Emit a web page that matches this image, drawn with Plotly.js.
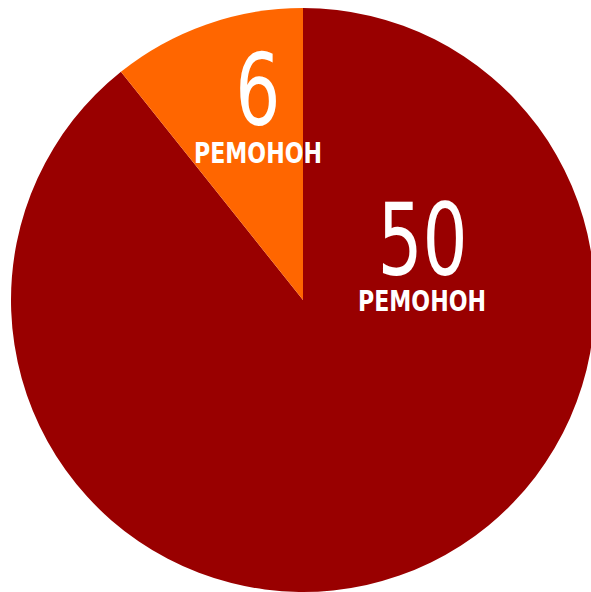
<!DOCTYPE html>
<html>
<head>
<meta charset="utf-8">
<script src="https://cdn.plot.ly/plotly-3.0.1.min.js"></script>
<style>
html, body { margin:0; padding:0; overflow:hidden; background:#fff; width:591px; height:592px; }
#chart { position:absolute; left:0; top:0; }
</style>
</head>
<body>
<div id="chart"></div>
<script>
// Data
const categories = ["Big", "Small"];
const values = [50, 6];
const unitLabel = "РЕМОНОН";
const sliceColors = ["#990000", "#FF6600"];

const W = 600, H = 600;
const cx = 303, cy = 300, R = 292;

const trace = {
  type: "pie",
  labels: categories,
  values: values,
  sort: false,
  direction: "clockwise",
  rotation: 0,
  textinfo: "none",
  hoverinfo: "none",
  marker: { colors: sliceColors, line: { width: 0 } },
  domain: { x: [(cx - R) / W, (cx + R) / W], y: [(H - cy - R) / H, (H - cy + R) / H] },
  showlegend: false
};

const numFont = { family: "DejaVu Sans", size: 100, color: "#ffffff" };
const unitFont = { family: "DejaVu Sans", size: 28, color: "#ffffff", weight: "bold" };

// label anchor points (pixels from top-left)
const labelPos = [ { x: 422, yNum: 240, yUnit: 301 }, { x: 258, yNum: 90, yUnit: 153 } ];

const annotations = [];
values.forEach((v, i) => {
  const p = labelPos[i];
  annotations.push({ xref: "paper", yref: "paper", x: p.x / W, y: 1 - p.yNum / H, text: String(v),
    showarrow: false, xanchor: "center", yanchor: "middle", font: numFont });
  annotations.push({ xref: "paper", yref: "paper", x: p.x / W, y: 1 - p.yUnit / H, text: unitLabel,
    showarrow: false, xanchor: "center", yanchor: "middle", font: unitFont });
});

Plotly.newPlot("chart", [trace], {
  width: W, height: H,
  margin: { l: 0, r: 0, t: 0, b: 0 },
  paper_bgcolor: "#ffffff",
  annotations: annotations
}, { staticPlot: true, displayModeBar: false }).then(() => {
  // condense the label glyphs horizontally (narrow display font look)
  document.querySelectorAll("#chart text.annotation-text").forEach(t => {
    const big = t.textContent.length <= 3;
    const s = big ? 0.71 : 0.79;
    const bb = t.getBBox();
    const mx = bb.x + bb.width / 2;
    const prev = t.getAttribute("transform") || "";
    t.setAttribute("transform", prev + " translate(" + mx + ",0) scale(" + s + ",1) translate(" + (-mx) + ",0)");
  });
});
</script>
</body>
</html>
